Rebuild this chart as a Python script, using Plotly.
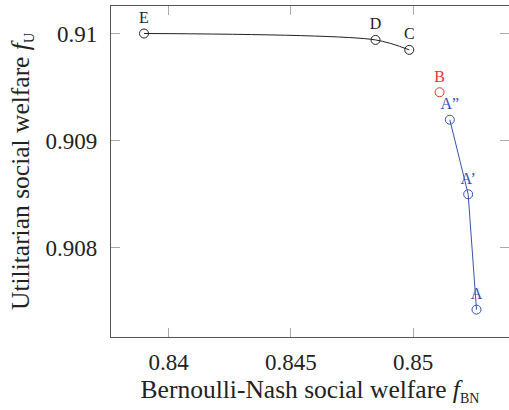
import plotly.graph_objects as go

# Data
black_labels = ["E", "D", "C"]
black_x = [0.83899, 0.84846, 0.84984]
black_y = [0.91000, 0.909940, 0.909847]

red_labels = ["B"]
red_x = [0.85108]
red_y = [0.909451]

blue_labels = ["A\u201d", "A\u2019", "A"]
blue_x = [0.85150, 0.85225, 0.85259]
blue_y = [0.909194, 0.908497, 0.907419]

x_ticks = [0.84, 0.845, 0.85]
x_ticklabels = ["0.84", "0.845", "0.85"]
y_ticks = [0.908, 0.909, 0.91]
y_ticklabels = ["0.908", "0.909", "0.91"]

FONT = "Times New Roman"
BLUE = "#3552b0"
RED = "#f03030"
BLACK = "#222222"
TXT = "#222222"

fig = go.Figure()

fig.add_trace(go.Scatter(
    x=black_x, y=black_y, mode="lines+markers+text", text=black_labels,
    textposition="top center", textfont=dict(family=FONT, size=16, color=BLACK),
    line=dict(color=BLACK, width=1, shape="spline", smoothing=0.8),
    marker=dict(symbol="circle-open", size=9, color=BLACK, line=dict(width=1)),
    showlegend=False, cliponaxis=False))

fig.add_trace(go.Scatter(
    x=red_x, y=red_y, mode="markers+text", text=red_labels,
    textposition="top center", textfont=dict(family=FONT, size=16, color=RED),
    marker=dict(symbol="circle-open", size=9, color=RED, line=dict(width=1)),
    showlegend=False, cliponaxis=False))

fig.add_trace(go.Scatter(
    x=blue_x, y=blue_y, mode="lines+markers+text", text=blue_labels,
    textposition="top center", textfont=dict(family=FONT, size=16, color=BLUE),
    line=dict(color=BLUE, width=1),
    marker=dict(symbol="circle-open", size=9, color=BLUE, line=dict(width=1)),
    showlegend=False, cliponaxis=False))

# invisible trace for right-side ticks
fig.add_trace(go.Scatter(x=[black_x[0]], y=[black_y[0]], yaxis="y2",
                         mode="markers", marker=dict(opacity=0),
                         showlegend=False, hoverinfo="skip"))

xr = [0.83764, 0.85392]
yr = [0.907163, 0.910257]
tf = dict(family=FONT, size=23, color=TXT)
ttf = dict(family=FONT, size=25.5, color=TXT)

fig.update_layout(
    width=509, height=410,
    margin=dict(l=111, r=0, t=6, b=73),
    paper_bgcolor="white", plot_bgcolor="white",
    font=dict(family=FONT, size=23, color=TXT),
    xaxis=dict(
        range=xr, tickvals=x_ticks, ticktext=x_ticklabels,
        showgrid=False, zeroline=False, automargin=False,
        showline=True, linecolor="#555555", linewidth=1.3, mirror="ticks",
        ticks="inside", ticklen=9, tickcolor="#aaaaaa", tickwidth=1,
        ticklabelstandoff=4, tickfont=tf,
        title=dict(text="Bernoulli-Nash social welfare <i>f</i><sub><span style='font-size:14px'>BN</span></sub>",
                   standoff=4, font=ttf),
    ),
    yaxis=dict(
        range=yr, tickvals=y_ticks, ticktext=y_ticklabels,
        showgrid=False, zeroline=False, automargin=False,
        showline=True, linecolor="#555555", linewidth=1.3, mirror=False,
        ticks="inside", ticklen=9, tickcolor="#aaaaaa", tickwidth=1,
        ticklabelstandoff=8, tickfont=tf,
        title=dict(text="Utilitarian social welfare <i>f</i><sub><span style='font-size:14px'>U</span></sub>",
                   standoff=8, font=ttf),
    ),
    yaxis2=dict(
        range=yr, tickvals=y_ticks, overlaying="y", side="right",
        showticklabels=False, showgrid=False, zeroline=False, showline=False,
        automargin=False,
        ticks="inside", ticklen=9, tickcolor="#aaaaaa", tickwidth=1,
    ),
)

fig.write_html("out.html", config={"displayModeBar": False},
               post_script="document.body.style.margin='0';")
